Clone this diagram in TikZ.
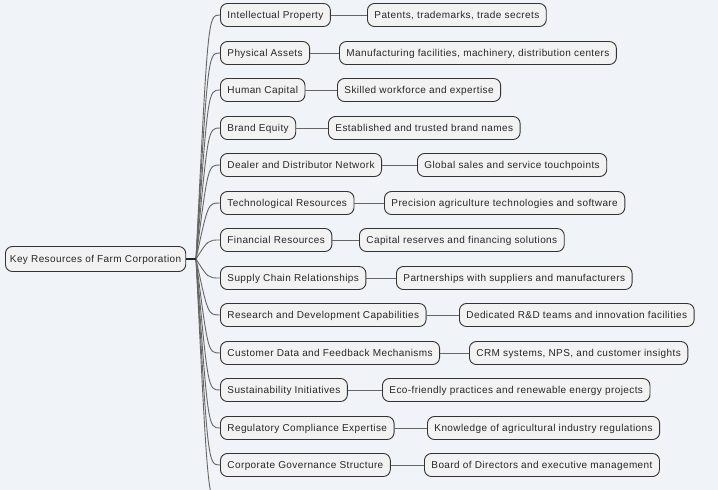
\documentclass[tikz,border=0pt]{standalone}
\usepackage{fontspec}
\setmainfont{Liberation Sans}[LetterSpace=4]
\definecolor{bgcol}{HTML}{F0F3F7}
\definecolor{boxfill}{HTML}{F2F2F2}
\definecolor{boxline}{HTML}{333333}
\definecolor{linkcol}{HTML}{666666}
\tikzset{
  topic/.style={draw=boxline, fill=boxfill, line width=0.9pt, rounded corners=7pt,
    minimum height=23pt, inner xsep=7pt, inner ysep=0pt, anchor=west,
    text height=7.2pt, text depth=0pt,
    font=\fontsize{10}{12}\selectfont, text=black!85},
  fanline/.style={draw=linkcol, line width=0.9pt},
  leafline/.style={draw=linkcol, line width=0.9pt},
  rootline/.style={draw=black!85, line width=2.4pt}
}
\begin{document}
\begin{tikzpicture}[x=1pt,y=-1pt]
            \useasboundingbox (0,0) rectangle (718,490);
            \fill[bgcol] (0,0) rectangle (718,490);
            \clip (0,0) rectangle (718,490);
            % root
            \node[topic, minimum height=25pt, inner xsep=4.5pt] (root) at (5,259) {Key Resources of Farm Corporation};
            \coordinate (fan) at (196,259);
            \coordinate (more) at (220,503);
            % branches
            \node[topic] (ip) at (220,15) {Intellectual Property};
            \node[topic] (pa) at (220,53) {Physical Assets};
            \node[topic] (hc) at (220,90) {Human Capital};
            \node[topic] (be) at (220,128) {Brand Equity};
            \node[topic] (dd) at (220,165) {Dealer and Distributor Network};
            \node[topic] (tr) at (220,203) {Technological Resources};
            \node[topic] (fr) at (220,240) {Financial Resources};
            \node[topic] (sc) at (220,278) {Supply Chain Relationships};
            \node[topic] (rd) at (220,315) {Research and Development Capabilities};
            \node[topic] (cd) at (220,353) {Customer Data and Feedback Mechanisms};
            \node[topic] (si) at (220,390) {Sustainability Initiatives};
            \node[topic] (rc) at (220,428) {Regulatory Compliance Expertise};
            \node[topic] (cg) at (220,465) {Corporate Governance Structure};
            % details
            \node[topic] (ipd) at (367,15) {Patents, trademarks, trade secrets};
            \node[topic] (pad) at (339,53) {Manufacturing facilities, machinery, distribution centers};
            \node[topic] (hcd) at (337,90) {Skilled workforce and expertise};
            \node[topic] (bed) at (328,128) {Established and trusted brand names};
            \node[topic] (ddd) at (417,165) {Global sales and service touchpoints};
            \node[topic] (trd) at (384,203) {Precision agriculture technologies and software};
            \node[topic] (frd) at (359,240) {Capital reserves and financing solutions};
            \node[topic] (scd) at (396,278) {Partnerships with suppliers and manufacturers};
            \node[topic] (rdd) at (459,315) {Dedicated R\&D teams and innovation facilities};
            \node[topic] (cdd) at (469,353) {CRM systems, NPS, and customer insights};
            \node[topic] (sid) at (382,390) {Eco-friendly practices and renewable energy projects};
            \node[topic] (rcd) at (427,428) {Knowledge of agricultural industry regulations};
            \node[topic] (cgd) at (424,465) {Board of Directors and executive management};
            % links
            \draw[fanline] (fan) .. controls (208,15) .. (ip.west);
            \draw[fanline] (fan) .. controls (208,53) .. (pa.west);
            \draw[fanline] (fan) .. controls (208,90) .. (hc.west);
            \draw[fanline] (fan) .. controls (208,128) .. (be.west);
            \draw[fanline] (fan) .. controls (208,165) .. (dd.west);
            \draw[fanline] (fan) .. controls (208,203) .. (tr.west);
            \draw[fanline] (fan) .. controls (208,240) .. (fr.west);
            \draw[fanline] (fan) .. controls (208,278) .. (sc.west);
            \draw[fanline] (fan) .. controls (208,315) .. (rd.west);
            \draw[fanline] (fan) .. controls (208,353) .. (cd.west);
            \draw[fanline] (fan) .. controls (208,390) .. (si.west);
            \draw[fanline] (fan) .. controls (208,428) .. (rc.west);
            \draw[fanline] (fan) .. controls (208,465) .. (cg.west);
            \draw[fanline] (fan) .. controls (208,503) .. (more);
            \draw[rootline] (root.east) -- (fan);
            \draw[leafline] (ip) -- (ipd);
            \draw[leafline] (pa) -- (pad);
            \draw[leafline] (hc) -- (hcd);
            \draw[leafline] (be) -- (bed);
            \draw[leafline] (dd) -- (ddd);
            \draw[leafline] (tr) -- (trd);
            \draw[leafline] (fr) -- (frd);
            \draw[leafline] (sc) -- (scd);
            \draw[leafline] (rd) -- (rdd);
            \draw[leafline] (cd) -- (cdd);
            \draw[leafline] (si) -- (sid);
            \draw[leafline] (rc) -- (rcd);
            \draw[leafline] (cg) -- (cgd);
\end{tikzpicture}
\end{document}
